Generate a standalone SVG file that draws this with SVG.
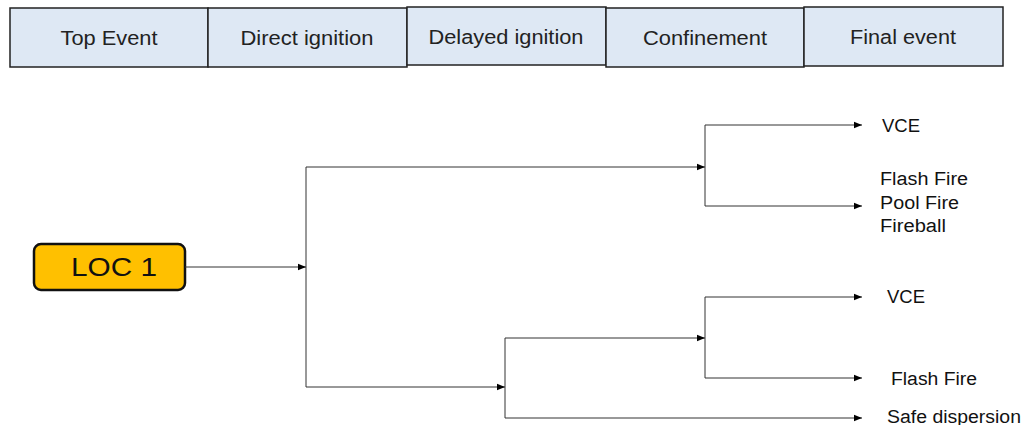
<svg xmlns="http://www.w3.org/2000/svg" width="1023" height="425" viewBox="0 0 1023 425">
<defs>
<marker id="ah" viewBox="0 0 10 10" refX="10" refY="5" markerWidth="8" markerHeight="8" markerUnits="userSpaceOnUse" orient="auto"><path d="M0,1 L10,5 L0,9 Z" fill="#000"/></marker>
<style>
.hdr{fill:#DEE8F4;stroke:#222;stroke-width:1.5}
.ht{font-family:"Liberation Sans",Arial,sans-serif;font-size:20px;fill:#222;text-anchor:middle}
.lb{font-family:"Liberation Sans",Arial,sans-serif;font-size:18px;fill:#111}
.c{fill:none;stroke:#333;stroke-width:1}
.a{marker-end:url(#ah)}
</style>
</defs>
<rect width="1023" height="425" fill="#fff"/>
<g id="header">
<g id="h1"><rect class="hdr" x="10" y="8" width="198" height="59"/><text class="ht" x="109" y="45" textLength="97" lengthAdjust="spacingAndGlyphs">Top Event</text></g>
<g id="h2"><rect class="hdr" x="208" y="8" width="199" height="59"/><text class="ht" x="307" y="45" textLength="133" lengthAdjust="spacingAndGlyphs">Direct ignition</text></g>
<g id="h3"><rect class="hdr" x="407" y="7" width="199" height="58"/><text class="ht" x="506" y="44" textLength="155" lengthAdjust="spacingAndGlyphs">Delayed  ignition</text></g>
<g id="h4"><rect class="hdr" x="606" y="8" width="198" height="59"/><text class="ht" x="705" y="45" textLength="124" lengthAdjust="spacingAndGlyphs">Confinement</text></g>
<g id="h5"><rect class="hdr" x="804" y="7" width="199" height="59"/><text class="ht" x="903" y="44" textLength="106" lengthAdjust="spacingAndGlyphs">Final event</text></g>
</g>
<g id="loc1"><rect x="34" y="244" width="151" height="46" rx="7" fill="#FFC000" stroke="#111" stroke-width="2.5"/><text x="114" y="276" text-anchor="middle" font-family="Liberation Sans,Arial,sans-serif" font-size="26" fill="#111" textLength="86" lengthAdjust="spacingAndGlyphs">LOC 1</text></g>
<g id="connectors">
<path class="c a" d="M185,267 H306"/>
<path class="c" d="M306,167 V387"/>
<path class="c a" d="M306,167 H705"/>
<path class="c" d="M705,125 V206"/>
<path class="c a" d="M705,125 H862"/>
<path class="c a" d="M705,206 H862"/>
<path class="c a" d="M306,387 H505"/>
<path class="c" d="M505,338 V418"/>
<path class="c a" d="M505,338 H705"/>
<path class="c" d="M705,297 V378"/>
<path class="c a" d="M705,297 H862"/>
<path class="c a" d="M705,378 H862"/>
<path class="c a" d="M505,418 H862"/>
</g>
<g id="labels">
<text class="lb" x="882" y="132" textLength="38" lengthAdjust="spacingAndGlyphs">VCE</text>
<text class="lb" x="880" y="185" textLength="88" lengthAdjust="spacingAndGlyphs">Flash Fire</text>
<text class="lb" x="880" y="209" textLength="79" lengthAdjust="spacingAndGlyphs">Pool Fire</text>
<text class="lb" x="880" y="232" textLength="66" lengthAdjust="spacingAndGlyphs">Fireball</text>
<text class="lb" x="887" y="303" textLength="38" lengthAdjust="spacingAndGlyphs">VCE</text>
<text class="lb" x="891" y="385" textLength="86" lengthAdjust="spacingAndGlyphs">Flash Fire</text>
<text class="lb" x="887" y="423" textLength="134" lengthAdjust="spacingAndGlyphs">Safe dispersion</text>
</g>
</svg>
